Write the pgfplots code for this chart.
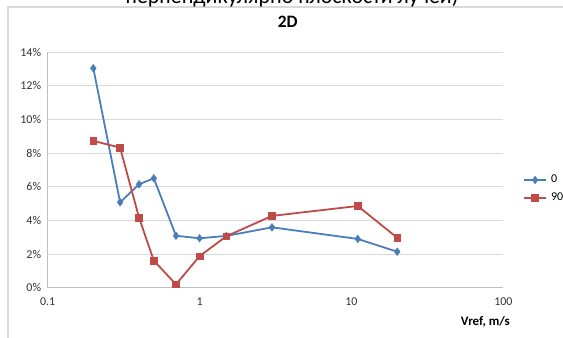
\documentclass[border=0pt]{standalone}
\usepackage{pgfplots}
\pgfplotsset{compat=1.18}
\usepackage{fontspec}
\setmainfont{Carlito}
\definecolor{xblue}{HTML}{4A7EBB}
\definecolor{xred}{HTML}{BE4B48}
\definecolor{gridgray}{HTML}{D9D9D9}
\definecolor{axgray}{HTML}{BFBFBF}
\begin{document}
\begin{tikzpicture}[x=1bp,y=1bp]
\fill[white] (0,0) rectangle (563,337);
\begin{scope}
\clip (0,0) rectangle (563,337);
\draw[gridgray, line width=1.5bp] (8,-10) -- (8,330) -- (580,330);
\node[font=\fontsize{22}{26}\selectfont, anchor=base, inner sep=0] at (292,334) {перпендикулярно плоскости лучей)};
\end{scope}
\begin{axis}[
  at={(47.6bp,49.3bp)}, anchor=south west,
  scale only axis, width=455.8bp, height=235.4bp,
  xmode=log, xmin=0.1, xmax=100, ymin=0, ymax=14,
  xtick={0.1,1,10,100}, xticklabels={0.1,1,10,100},
  xminorticks=false,
  ytick={0,2,4,6,8,10,12,14},
  yticklabel={\pgfmathprintnumber{\tick}\%},
  /pgf/number format/assume math mode=true,
  ymajorgrids, major grid style={gridgray, line width=0.9bp},
  axis x line*=bottom, axis y line*=left,
  axis line style={axgray, line width=0.9bp},
  major tick length=0,
  tick label style={font=\fontsize{12}{14}\selectfont, text=black!80},
  xticklabel style={yshift=-7bp},
  yticklabel style={xshift=-3bp},
  title={2D},
  title style={at={(axis description cs:0.527,1.103)}, anchor=center, inner sep=0, font=\bfseries\fontsize{17.5}{20}\selectfont},
  xlabel={Vref, m/s},
  xlabel style={at={(axis description cs:1.0145,-0.1457)}, anchor=east, inner sep=0, font=\bfseries\fontsize{13}{15}\selectfont},
  clip=false,
  legend style={at={(axis description cs:1.043,0.419)}, anchor=west, draw=none, fill=none, inner sep=0,
    font=\fontsize{12}{14}\selectfont, row sep=9bp, column sep=4bp,
    nodes={inner sep=0pt, text height=7bp, text depth=2bp}},
  legend cell align=left,
  legend image code/.code={\draw[mark repeat=2, mark phase=2] plot coordinates {(0bp,0bp) (11bp,0bp) (22bp,0bp)};},
]
\addplot[color=xblue, line width=1.8bp, mark=diamond*, mark size=3.8bp, mark options={fill=xblue, line width=0.5bp}]
coordinates {(0.2,13.05) (0.3,5.08) (0.4,6.15) (0.5,6.51) (0.7,3.09) (1,2.94) (1.5,3.08) (3,3.59) (11,2.90) (20,2.14)};
\addlegendentry{0}
\addplot[color=xred, line width=1.8bp, mark=square*, mark size=3.4bp, mark options={fill=xred, line width=0.5bp}]
coordinates {(0.2,8.73) (0.3,8.33) (0.4,4.16) (0.5,1.61) (0.7,0.20) (1,1.87) (1.5,3.06) (3,4.27) (11,4.86) (20,2.97)};
\addlegendentry{90}
\end{axis}
\pgfresetboundingbox
\useasboundingbox (0,0) rectangle (563,337);
\end{tikzpicture}
\end{document}
